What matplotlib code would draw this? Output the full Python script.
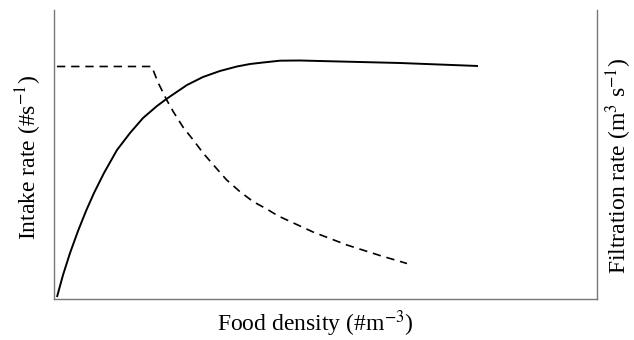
import matplotlib
matplotlib.use("Agg")
import matplotlib.pyplot as plt

# Data (arbitrary units, 0-100 scale)
intake_x = [0.64, 1.75, 3.04, 4.51, 5.98, 7.45, 9.29, 11.68, 14.08, 16.47, 19.04, 20.52,
            21.44, 24.56, 27.51, 30.63, 33.76, 36.15, 38.55, 41.67, 45.35, 49.03, 63.75, 78.10]
intake_y = [0.52, 8.15, 15.77, 23.40, 30.33, 36.57, 43.50, 51.47, 57.37, 62.56, 66.72, 68.80,
            70.02, 74.00, 76.78, 78.86, 80.42, 81.28, 81.80, 82.43, 82.50, 82.32, 81.63, 80.59]

filt_x = [0.64, 18.07, 19.28, 20.83, 22.04, 23.88, 25.72, 27.56, 29.71, 31.87, 34.31,
          36.76, 39.23, 41.36, 45.35, 47.75, 54.00, 60.07, 65.04]
filt_y = [80.42, 80.42, 74.70, 68.80, 64.75, 59.27, 54.94, 50.33, 45.68, 41.07, 37.02,
          33.55, 31.02, 28.60, 25.13, 23.05, 18.54, 14.90, 12.13]

plt.rcParams['font.family'] = ['Liberation Serif', 'DejaVu Serif']
plt.rcParams['mathtext.fontset'] = 'stix'

W, H = 634, 340
fig = plt.figure(figsize=(W/100, H/100), dpi=100)
ax = fig.add_axes([53.5/W, 1-298.5/H, 543.5/W, 288.5/H])
ax.plot(intake_x, intake_y, color='black', lw=1.4, solid_capstyle='butt',
        solid_joinstyle='round')
ax.plot(filt_x, filt_y, color='black', lw=1.2, dashes=(5, 3.5))
ax.set_xlim(0, 100)
ax.set_ylim(0, 100)
ax.set_xticks([])
ax.set_yticks([])
ax.spines['top'].set_visible(False)
for s in ['left', 'right', 'bottom']:
    ax.spines[s].set_color('#777777')
    ax.spines[s].set_linewidth(1.0)

fs = 17
fig.text(315/W, 1-324/H, r'Food density (#m$^{-3}$)', fontsize=fs, ha='center', va='center')
fig.text(29/W, 1-157/H, r'Intake rate (#s$^{-1}$)', fontsize=fs, ha='center', va='center',
         rotation=90)
fig.text(619/W, 1-166/H, r'Filtration rate (m$^{3}$ s$^{-1}$)', fontsize=fs, ha='center',
         va='center', rotation=90)

fig.savefig('out.png', dpi=100)
